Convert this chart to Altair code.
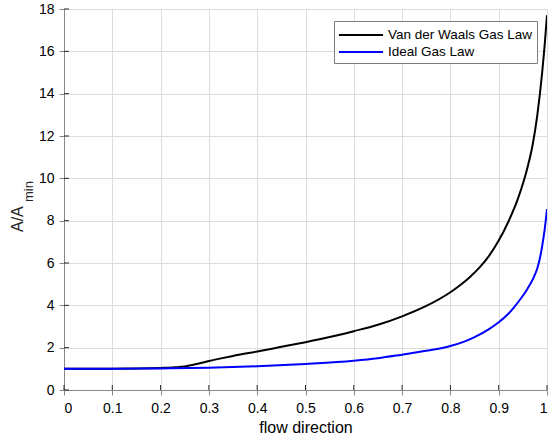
import altair as alt
import pandas as pd

# Area ratio along the nozzle, two equations of state
x_vdw = [0, 0.05, 0.1, 0.15, 0.2, 0.23, 0.25, 0.27, 0.29, 0.3, 0.32, 0.35, 0.4, 0.45,
         0.5, 0.55, 0.6, 0.65, 0.7, 0.75, 0.8, 0.82, 0.84, 0.86, 0.88, 0.9, 0.92, 0.94,
         0.96, 0.97, 0.98, 0.99, 0.995, 1.0]
y_vdw = [1.0, 1.0, 1.0, 1.01, 1.04, 1.07, 1.11, 1.2, 1.31, 1.37, 1.47, 1.61, 1.82, 2.04,
         2.26, 2.5, 2.78, 3.08, 3.48, 3.97, 4.62, 4.95, 5.33, 5.78, 6.34, 7.06, 7.95, 9.05,
         10.55, 11.55, 13.0, 15.0, 16.25, 17.7]

x_ideal = [0, 0.1, 0.2, 0.3, 0.4, 0.5, 0.6, 0.65, 0.7, 0.75, 0.8, 0.83, 0.85, 0.88,
           0.9, 0.92, 0.93, 0.95, 0.96, 0.97, 0.975, 0.98, 0.985, 0.99, 0.995, 1.0]
y_ideal = [1.0, 1.0, 1.02, 1.05, 1.12, 1.23, 1.38, 1.5, 1.67, 1.85, 2.08, 2.3, 2.5, 2.88,
           3.2, 3.6, 3.86, 4.45, 4.8, 5.2, 5.45, 5.75, 6.2, 6.8, 7.55, 8.55]

series_names = ["Van der Waals Gas Law", "Ideal Gas Law"]
series_colors = ["#000000", "#0000ff"]

x_ticks = [0, 0.1, 0.2, 0.3, 0.4, 0.5, 0.6, 0.7, 0.8, 0.9, 1.0]
y_ticks = [0, 2, 4, 6, 8, 10, 12, 14, 16, 18]

FONT = "Liberation Sans"
W, H = 483, 381

df = pd.concat([
    pd.DataFrame({"x": x_vdw, "y": y_vdw, "series": series_names[0], "order": range(len(x_vdw))}),
    pd.DataFrame({"x": x_ideal, "y": y_ideal, "series": series_names[1], "order": range(len(x_ideal))}),
])

x_scale = alt.Scale(domain=[0, 1], nice=False, zero=False)
y_scale = alt.Scale(domain=[0, 18], nice=False)

# legend sample: a long horizontal stroke drawn from a custom path
legend_line = "M-2.45,0H2.45"

lines = alt.Chart(df).mark_line(strokeWidth=2, interpolate="monotone", clip=True).encode(
    x=alt.X("x:Q", scale=x_scale,
            axis=alt.Axis(values=x_ticks, title="flow direction", format="~g",
                          labelFontSize=14, titleFontSize=16, labelPadding=6,
                          titlePadding=4, titleFontWeight="normal")),
    y=alt.Y("y:Q", scale=y_scale,
            axis=alt.Axis(values=y_ticks, title=None, labelFontSize=14, labelPadding=5)),
    color=alt.Color("series:N",
                    scale=alt.Scale(domain=series_names, range=series_colors),
                    legend=alt.Legend(title=None, orient="none", legendX=270, legendY=12,
                                      symbolType=legend_line, symbolSize=324,
                                      symbolStrokeWidth=2, symbolOffset=13,
                                      labelFontSize=13.5, labelFont=FONT,
                                      labelColor="#000000", labelOffset=17, padding=4,
                                      rowPadding=0, fillColor="#ffffff",
                                      strokeColor="#7f7f7f")),
    order="order:Q",
)

# Inward-pointing tick marks on both axes
xt = alt.Chart(pd.DataFrame({"t": x_ticks})).mark_rule(color="#262626", strokeWidth=1).encode(
    x=alt.X("t:Q", scale=x_scale), y=alt.value(H), y2=alt.value(H - 5))
yt = alt.Chart(pd.DataFrame({"t": y_ticks})).mark_rule(color="#262626", strokeWidth=1).encode(
    y=alt.Y("t:Q", scale=y_scale), x=alt.value(0), x2=alt.value(5))

# Y-axis title with a subscript
ttl_main = alt.Chart(pd.DataFrame({"t": ["A/A"]})).mark_text(
    angle=270, align="left", baseline="middle", font=FONT, fontSize=16, color="#262626"
).encode(text="t:N", x=alt.value(-46), y=alt.value(223))
ttl_sub = alt.Chart(pd.DataFrame({"t": ["min"]})).mark_text(
    angle=270, align="left", baseline="middle", font=FONT, fontSize=13, color="#262626"
).encode(text="t:N", x=alt.value(-35), y=alt.value(193))

chart = alt.layer(lines, xt, yt, ttl_main, ttl_sub).properties(
    width=W, height=H,
    autosize=alt.AutoSizeParams(type="none"),
    padding={"left": 64, "top": 9, "right": 7, "bottom": 51},
).configure_axis(
    labelFont=FONT, titleFont=FONT, labelColor="#262626", titleColor="#262626",
    domainColor="#6b6b6b", domainWidth=1, tickSize=0, grid=True,
    gridColor="#dcdcdc", gridWidth=1,
).configure_view(stroke=None).configure(background="#ffffff")

chart.save("out.html", embed_options={"renderer": "svg", "actions": False})
